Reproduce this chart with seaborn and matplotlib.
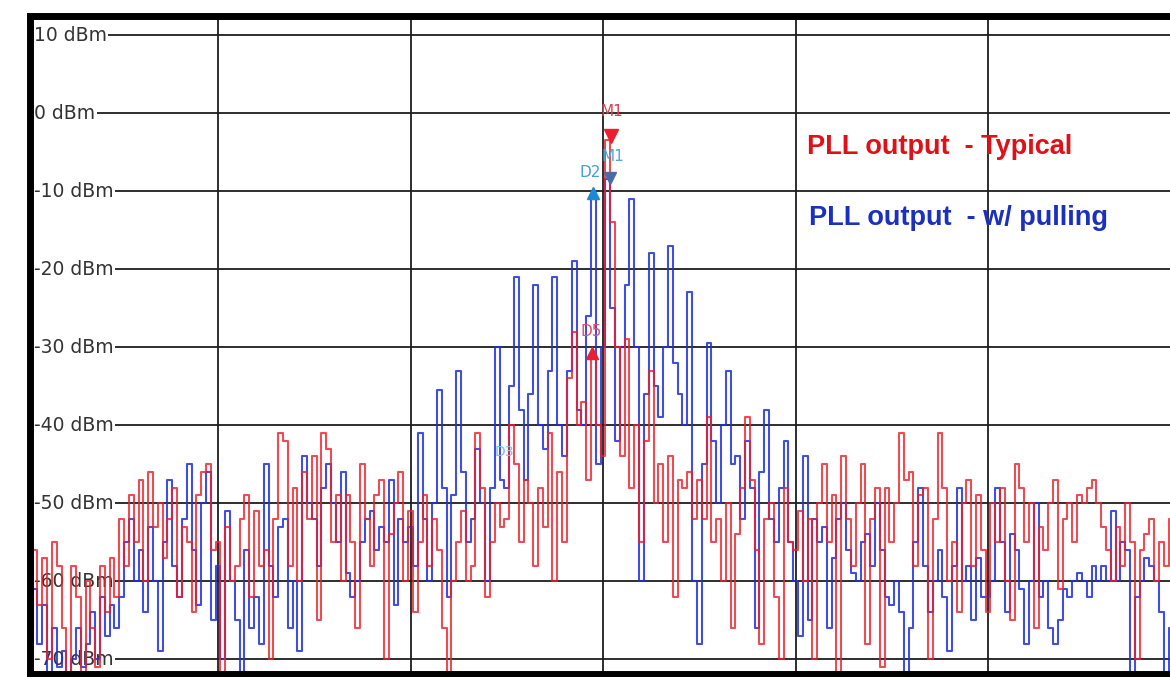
import numpy as np
import pandas as pd
import seaborn as sns
import matplotlib.pyplot as plt

# sweep grid (frequency offset in divisions from carrier)
f_start = -3.0
f_step = 0.025

# PLL output - Typical (dBm), read left to right
typical_dbm = [
    -57, -68, -56, -63, -57, -70, -55, -58, -66, -76, -58, -62, -76, -60, -66, -71, -58, -64, -57, -62,
    -52, -58, -49, -55, -47, -60, -46, -53, -50, -57, -52, -48, -62, -53, -55, -64, -49, -46, -45, -56,
    -55, -76, -53, -60, -58, -52, -49, -62, -51, -58, -56, -70, -52, -41, -42, -58, -48, -60, -46, -52,
    -44, -65, -41, -43, -55, -49, -60, -49, -55, -66, -45, -52, -58, -49, -47, -70, -54, -50, -46, -60,
    -51, -64, -55, -49, -58, -52, -56, -66, -76, -60, -55, -51, -60, -58, -41, -48, -62, -55, -50, -53,
    -52, -40, -45, -55, -47, -50, -58, -48, -53, -41, -60, -46, -55, -34, -28, -40, -37, -47, -31, -40,
    -44, -3.5, -14, -30, -44, -29, -48, -40, -55, -42, -33, -50, -45, -55, -44, -62, -47, -48, -46, -52,
    -47, -52, -39, -55, -52, -60, -50, -66, -54, -48, -39, -47, -56, -68, -52, -50, -62, -70, -48, -55,
    -56, -51, -60, -52, -70, -50, -45, -55, -49, -76, -44, -52, -58, -50, -45, -68, -52, -48, -71, -48,
    -55, -50, -41, -47, -46, -58, -49, -48, -70, -52, -41, -48, -60, -55, -64, -50, -47, -58, -49, -56,
    -64, -50, -55, -48, -60, -65, -45, -48, -55, -50, -66, -53, -56, -50, -47, -61, -52, -50, -55, -49,
    -50, -48, -47, -50, -53, -56, -60, -53, -58, -50, -55, -70, -56, -54, -52, -60, -55, -58, -52, -54,
]

# PLL output - w/ pulling (dBm)
pulling_dbm = [
    -62, -66, -61, -68, -63, -76, -66, -71, -69, -76, -70, -66, -71, -68, -64, -70, -62, -67, -63, -66,
    -62, -55, -52, -60, -56, -64, -53, -60, -69, -55, -47, -58, -62, -52, -45, -56, -63, -50, -46, -65,
    -58, -70, -51, -60, -65, -76, -56, -66, -62, -68, -45, -58, -62, -53, -52, -66, -60, -69, -44, -50,
    -52, -58, -48, -45, -50, -55, -46, -59, -62, -60, -55, -52, -51, -56, -53, -55, -47, -63, -52, -55,
    -53, -58, -41, -52, -60, -50, -35.5, -48, -62, -49, -33, -46, -55, -52, -43, -50, -60, -48, -30, -47,
    -48, -35, -21, -38, -47, -36, -22, -40, -43, -33, -21, -40, -44, -33, -19, -38, -40, -26, -11, -45,
    -30, -8.5, -25, -42, -30, -22, -11, -30, -60, -36, -18, -35, -39, -30, -17, -32, -36, -40, -23, -60,
    -68, -45, -29.5, -42, -50, -40, -33, -45, -44, -52, -42, -48, -66, -46, -38, -52, -55, -48, -42, -55,
    -60, -67, -44, -65, -52, -55, -53, -66, -57, -52, -50, -56, -59, -60, -55, -54, -58, -50, -56, -62,
    -63, -60, -64, -76, -66, -55, -48, -58, -64, -60, -56, -62, -69, -58, -48, -60, -58, -65, -57, -62,
    -62, -60, -48, -55, -64, -54, -56, -61, -68, -60, -50, -62, -60, -66, -68, -65, -61, -62, -60, -59,
    -60, -62, -58, -60, -58, -60, -51, -60, -55, -56, -76, -62, -60, -57, -58, -60, -64, -76, -66, -68,
]

ref_levels = [10, 0, -10, -20, -30, -40, -50, -60, -70]
ref_labels = ['10 dBm', '0 dBm', '-10 dBm', '-20 dBm', '-30 dBm', '-40 dBm', '-50 dBm', '-60 dBm', '-70 dBm']

freq = f_start + f_step * np.arange(len(typical_dbm))
df = pd.DataFrame({'freq': freq, 'typical': typical_dbm, 'pulling': pulling_dbm})

sns.set_style('white')
fig = plt.figure(figsize=(11.7, 6.77), dpi=100)
ax = fig.add_axes([29.5 / 1170, 3 / 677, 1 - 29.5 / 1170, 1 - 19 / 677])

# grid
for lv in ref_levels:
    ax.axhline(lv, color='#1e1e1e', lw=1.3, zorder=1)
for fv in [-2, -1, 0, 1, 2]:
    ax.axvline(fv, color='#1e1e1e', lw=1.3, zorder=1)

sns.lineplot(data=df, x='freq', y='pulling', ax=ax, color='#1f30d8', lw=1.5,
             drawstyle='steps-mid', alpha=0.85, zorder=3)
sns.lineplot(data=df, x='freq', y='typical', ax=ax, color='#e8202a', lw=1.5,
             drawstyle='steps-mid', alpha=0.8, zorder=4)

ax.set_xlim(-2.979, 2.945)
ax.set_ylim(-71.9, 12.44)
ax.set_xticks([])
ax.set_yticks([])
ax.set_xlabel('')
ax.set_ylabel('')

# reference level labels inside the frame
for lv, lab in zip(ref_levels, ref_labels):
    ax.text(-2.955, lv, lab, fontsize=13.5, color='#333333', va='center', ha='left',
            family='DejaVu Sans', zorder=2,
            bbox=dict(facecolor='white', edgecolor='none', pad=1.0))

# markers
ax.plot([0.04], [-3.0], marker='v', color='#e82030', ms=10, zorder=6, ls='none')
ax.text(0.045, 0.2, 'M1', color='#d84050', fontsize=11, ha='center', va='center', zorder=6)
ax.plot([0.035], [-8.3], marker='v', color='#4a6aa8', ms=8, zorder=6, ls='none')
ax.text(0.05, -5.6, 'M1', color='#50a8d0', fontsize=11, ha='center', va='center', zorder=6)
ax.plot([-0.052], [-10.3], marker='^', color='#1a8ad8', ms=9, zorder=6, ls='none')
ax.text(-0.065, -7.6, 'D2', color='#40a0d8', fontsize=11, ha='center', va='center', zorder=6)
ax.plot([-0.057], [-30.7], marker='^', color='#e82030', ms=8, zorder=6, ls='none')
ax.text(-0.06, -28.0, 'D5', color='#e05070', fontsize=11, ha='center', va='center', zorder=6)
ax.text(-0.51, -43.5, 'D3', color='#80c0e0', fontsize=10, ha='center', va='center', zorder=6)

# legend text
ax.text(1.06, -4.4, 'PLL output  - Typical', color='#e01018', fontsize=19.5,
        fontweight='bold', family='Liberation Sans', va='center', ha='left', zorder=7)
ax.text(1.07, -13.5, 'PLL output  - w/ pulling', color='#1a30c0', fontsize=19.5,
        fontweight='bold', family='Liberation Sans', va='center', ha='left', zorder=7)

# frame: heavy left, top and bottom, no right
for side in ['left', 'top', 'bottom']:
    ax.spines[side].set_visible(True)
    ax.spines[side].set_color('black')
    ax.spines[side].set_linewidth(5)
    ax.spines[side].set_zorder(8)
ax.spines['right'].set_visible(False)

fig.savefig('out.png', dpi=100)
